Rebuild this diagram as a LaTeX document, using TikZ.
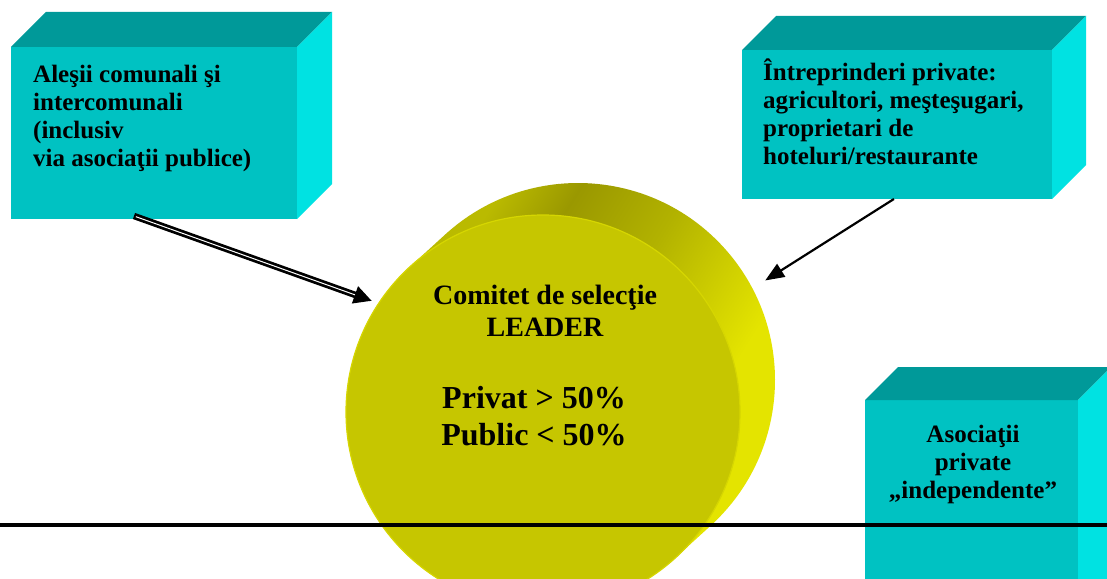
\documentclass[tikz,border=0pt]{standalone}
\usepackage{fontspec}
\setmainfont{Liberation Serif}
\usepackage{tikz}
\usetikzlibrary{arrows.meta,positioning,calc}
\definecolor{boxfront}{RGB}{0,194,194}
\definecolor{boxtop}{RGB}{0,153,153}
\definecolor{boxside}{RGB}{0,226,226}
\definecolor{discface}{RGB}{198,198,0}
\definecolor{discmid}{RGB}{186,186,0}
\definecolor{discdark}{RGB}{154,152,0}
\definecolor{discolive}{RGB}{178,178,0}
\definecolor{discbright}{RGB}{228,228,0}
\definecolor{discrim}{RGB}{214,214,0}
\pgfdeclarehorizontalshading{discside}{100bp}{color(0bp)=(discmid); color(33bp)=(discmid);
  color(40bp)=(discdark); color(50bp)=(discolive); color(64bp)=(discbright); color(100bp)=(discbright)}

\begin{document}
\begin{tikzpicture}[x=1pt, y=-1pt,
    face/.style={rectangle, fill=boxfront, inner sep=0, outer sep=0},
    boxtxt/.style={inner sep=0, font=\fontsize{25}{28}\selectfont\bfseries},
    disctxt/.style={inner sep=0, font=\fontsize{28}{32}\selectfont\bfseries, align=center},
    bigtxt/.style={inner sep=0, font=\fontsize{32}{37}\selectfont\bfseries, align=center},
    disc/.style={circle, minimum size=394pt, inner sep=0, outer sep=0},
    dblarrow/.style={line width=6.5pt, -{Triangle[length=18pt, width=17pt]}},
    dblcore/.style={white, line width=1pt, shorten <=2pt, shorten >=18pt},
    arrow/.style={line width=2.2pt, -{Triangle[length=19pt, width=15pt]}}]
  \clip (0,0) rectangle (1107,578);
  \fill[white] (0,0) rectangle (1107,578);
  % boxes: front faces, then top and side
  \node[face, minimum width=286pt, minimum height=172pt, anchor=north west] (box1) at (11,47) {};
  \node[face, minimum width=310pt, minimum height=149pt, anchor=north west] (box2) at (742,50) {};
  \node[face, minimum width=213pt, minimum height=230pt, anchor=north west] (box3) at (865,400) {};
  \foreach \b/\d in {box1/35,box2/34,box3/33} {
    \fill[boxtop] (\b.north west) -- (\b.north east) -- ++(\d,-\d)
      -- ($(\b.north west)+(\d,-\d)$) -- cycle;
    \fill[boxside] (\b.north east) -- (\b.south east) -- ++(\d,-\d)
      -- ($(\b.north east)+(\d,-\d)$) -- cycle;
  }
  % disc: side band, then front face
  \coordinate (cb) at (578,380);
  \coordinate (cf) at (543,412);
  \shade[shading=discside, shading angle=-32]
    ($(cf)+(-47.6:197pt)$) -- ($(cb)+(-47.6:197pt)$)
    arc[start angle=-47.6, end angle=132.4, radius=197pt]
    -- ($(cf)+(132.4:197pt)$)
    arc[start angle=132.4, end angle=312.4, radius=197pt] -- cycle;
  \node[disc, fill=discface, draw=discrim, line width=1.2pt] (disc) at (cf) {};
  % texts
  \node[boxtxt, align=left, anchor=north west] (box1txt) at (33,65)
    {Aleşii comunali şi\\intercomunali\\(inclusiv\\via asociaţii publice)};
  \node[boxtxt, align=left, anchor=north west] (box2txt) at (763,59)
    {Întreprinderi private:\\agricultori, meşteşugari,\\proprietari de\\hoteluri/restaurante};
  \node[boxtxt, align=center, anchor=north] (box3txt) at (973,425)
    {Asociaţii\\private\\„independente”};
  \node[disctxt, anchor=north] (disctitle) at (545,285) {Comitet de selecţie\\LEADER};
  \node[bigtxt, anchor=north] (discshare) at (534,386) {Privat > 50\%\\Public < 50\%};
  % arrows
  \coordinate (from1) at ($(box1.south west)!0.43!(box1.south east)+(0,-3)$);
  \coordinate (to1) at ($(cf)+(147:204pt)$);
  \draw[dblarrow] (from1) -- (to1);
  \draw[dblcore] (from1) -- (to1);
  \coordinate (from2) at ($(box2.south west)!0.49!(box2.south east)$);
  \coordinate (to2) at ($(cb)+(28:212pt)$);
  \draw[arrow] (from2) -- (to2);
  % base line
  \draw[line width=4pt] (0,525) -- (1107,525);
\end{tikzpicture}
\end{document}
